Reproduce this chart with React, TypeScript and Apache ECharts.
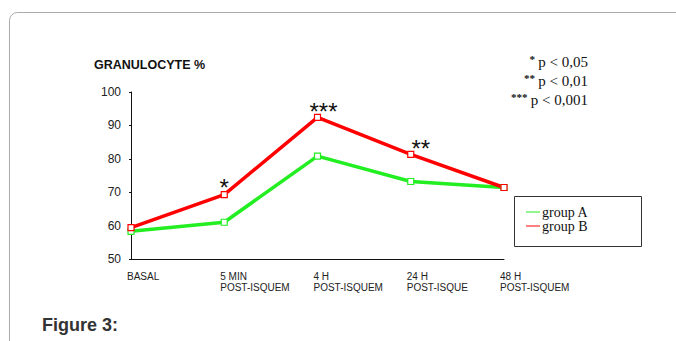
import React, { useEffect, useRef } from "react";
import * as echarts from "echarts";

const categories = [
  "BASAL",
  "5 MIN\nPOST-ISQUEM",
  "4 H\nPOST-ISQUEM",
  "24 H\nPOST-ISQUE",
  "48 H\nPOST-ISQUEM",
];
const groupA = [58.3, 61.0, 80.8, 73.2, 71.4];
const groupB = [59.4, 69.3, 92.4, 81.3, 71.4];
const stars = ["", "*", "***", "**", ""];
const starOffsets: [number, number][] = [
  [0, 0],
  [0, 14],
  [6, 15],
  [10, 15],
  [0, 0],
];
const yTicks = { min: 50, max: 100, interval: 10 };
const pLegend = [
  { stars: "*", text: "p < 0,05" },
  { stars: "**", text: "p < 0,01" },
  { stars: "***", text: "p < 0,001" },
];

const RED = "#ff0000";
const GREEN = "#22ee22";

export default function App() {
  const ref = useRef<HTMLDivElement>(null);
  useEffect(() => {
    const chart = echarts.init(ref.current!, null, { renderer: "svg" });
    const redData = groupB.map((v, i) =>
      stars[i]
        ? {
            value: v,
            label: {
              show: true,
              formatter: stars[i],
              position: "top",
              offset: starOffsets[i],
              fontFamily: "Arial, Liberation Sans",
              fontSize: 24,
              color: "#111",
            },
          }
        : v
    );
    chart.setOption({
      animation: false,
      backgroundColor: "#fff",
      grid: { left: 131, right: 172, top: 92, bottom: 82, containLabel: false },
      xAxis: {
        type: "category",
        data: categories,
        boundaryGap: false,
        axisLine: { lineStyle: { color: "#111", width: 1 } },
        axisTick: { show: false },
        axisLabel: {
          align: "left",
          margin: 12,
          fontFamily: "Arial, Liberation Sans",
          fontSize: 10,
          lineHeight: 11,
          color: "#222",
          interval: 0,
          padding: [0, 0, 0, -4],
        },
        splitLine: { show: false },
      },
      yAxis: {
        type: "value",
        min: yTicks.min,
        max: yTicks.max,
        interval: yTicks.interval,
        axisLine: { show: true, lineStyle: { color: "#111", width: 1 } },
        axisTick: { show: true, length: 2, lineStyle: { color: "#111" } },
        axisLabel: {
          margin: 10,
          fontFamily: "Arial, Liberation Sans",
          fontSize: 12,
          color: "#222",
        },
        splitLine: { show: false },
      },
      legend: {
        left: 521,
        top: 200,
        orient: "vertical",
        itemGap: 0,
        itemWidth: 14,
        itemHeight: 1,
        icon: "rect",
        lineStyle: { width: 1 },
        textStyle: {
          fontFamily: "Liberation Serif, Times New Roman, serif",
          fontSize: 14,
          color: "#111",
          padding: [0, 0, 0, -3],
        },
        data: [
          {
            name: "group A",
            itemStyle: { color: GREEN, borderWidth: 0 },
            lineStyle: { width: 1, color: GREEN },
          },
          {
            name: "group B",
            itemStyle: { color: RED, borderWidth: 0 },
            lineStyle: { width: 1, color: RED },
          },
        ],
      },
      graphic: [
        {
          type: "rect",
          z: -10,
          shape: { x: 9.5, y: 12.5, width: 720, height: 400, r: 8 },
          style: { fill: "#fff", stroke: "#aaa", lineWidth: 1 },
        },
        {
          type: "rect",
          shape: { x: 514.5, y: 196.5, width: 127, height: 50 },
          style: { fill: "none", stroke: "#333", lineWidth: 1 },
        },
        {
          type: "text",
          x: 94,
          y: 65,
          style: {
            text: "GRANULOCYTE %",
            fontFamily: "Arial, Liberation Sans",
            fontWeight: "bold",
            fontSize: 12.5,
            fill: "#111",
            verticalAlign: "middle",
          },
        },
        {
          type: "text",
          x: 42,
          y: 325,
          style: {
            text: "Figure 3:",
            fontFamily: "Arial, Liberation Sans",
            fontWeight: "bold",
            fontSize: 18,
            fill: "#333",
            verticalAlign: "middle",
          },
        },
        ...pLegend.map((p, i) => ({
          type: "text",
          x: 588,
          y: 62 + i * 19,
          style: {
            text: `{s|${p.stars}} {t|${p.text}}`,
            align: "right",
            verticalAlign: "middle",
            rich: {
              s: {
                fontFamily: "Liberation Serif, serif",
                fontSize: 11,
                fontWeight: "bold",
                fill: "#111",
                verticalAlign: "top",
                padding: [0, 0, 6, 0],
              },
              t: {
                fontFamily: "Liberation Serif, Times New Roman, serif",
                fontSize: 15,
                fill: "#111",
              },
            },
          },
        })),
      ],
      series: [
        {
          name: "group A",
          type: "line",
          data: groupA,
          symbol: "rect",
          symbolSize: 6,
          color: GREEN,
          lineStyle: { color: GREEN, width: 3.5 },
          itemStyle: { color: "#fff", borderColor: GREEN, borderWidth: 1.2 },
        },
        {
          name: "group B",
          type: "line",
          data: redData,
          symbol: "rect",
          symbolSize: 6,
          color: RED,
          lineStyle: { color: RED, width: 3.5 },
          itemStyle: { color: "#fff", borderColor: RED, borderWidth: 1.2 },
        },
      ],
    });
    return () => chart.dispose();
  }, []);
  return (
    <div
      ref={ref}
      style={{ position: "fixed", left: 0, top: 0, width: 676, height: 341 }}
    />
  );
}
